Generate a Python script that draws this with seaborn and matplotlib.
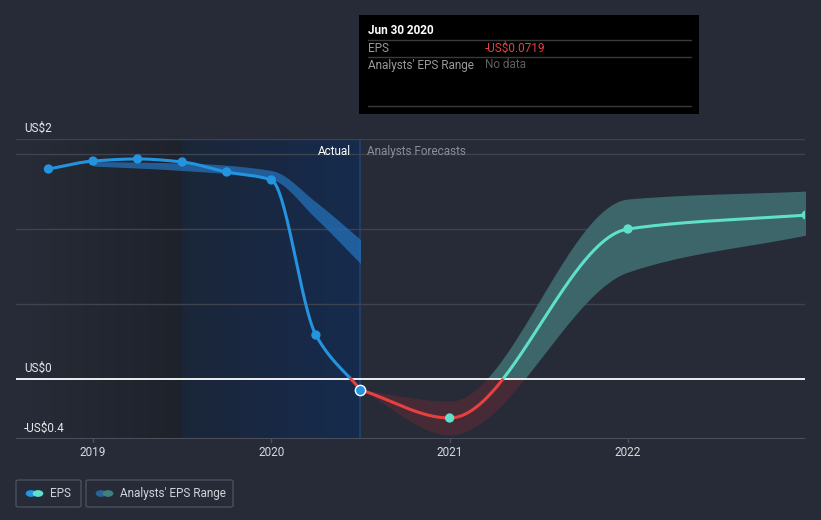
import numpy as np
import pandas as pd
import matplotlib
matplotlib.use("Agg")
import matplotlib.pyplot as plt
from matplotlib.colors import LinearSegmentedColormap
import seaborn as sns

# ---------------- data ----------------
actual_x = [2018.75, 2019.0, 2019.25, 2019.5, 2019.75, 2020.0, 2020.25, 2020.5]
actual_eps = [1.40, 1.453, 1.467, 1.447, 1.38, 1.327, 0.293, -0.0719]

past_range_x = [2019.0, 2019.5, 2020.0, 2020.25, 2020.5]
past_range_hi = [1.45, 1.44, 1.39, 1.18, 0.93]
past_range_lo = [1.42, 1.39, 1.33, 1.07, 0.77]

fc_x = [2020.5, 2021.0, 2022.0, 2023.0]
fc_eps = [-0.0719, -0.26, 1.0, 1.093]
fc_hi = [-0.0719, -0.147, 1.20, 1.253]
fc_lo = [-0.0719, -0.373, 0.713, 0.96]

year_ticks = [2019, 2020, 2021, 2022]
y_label_vals = [1.6, 0.0, -0.4]
y_label_txt = ["US$2", "US$0", "-US$0.4"]
grid_vals = [1.6, 1.5, 1.0, 0.5]

tip_date = "Jun 30 2020"
tip_eps = "-US$0.0719"

# ---------------- helpers ----------------
def pchip(x, y, xs):
    x = np.asarray(x, float); y = np.asarray(y, float)
    h = np.diff(x); d = np.diff(y) / h
    n = len(x)
    m = np.zeros(n)
    if n == 2:
        m[:] = d[0]
    else:
        for k in range(1, n - 1):
            if d[k - 1] * d[k] <= 0:
                m[k] = 0
            else:
                w1 = 2 * h[k] + h[k - 1]; w2 = h[k] + 2 * h[k - 1]
                m[k] = (w1 + w2) / (w1 / d[k - 1] + w2 / d[k])
        m[0] = d[0]; m[-1] = d[-1]
    out = np.empty_like(xs)
    for i, xv in enumerate(xs):
        k = min(max(np.searchsorted(x, xv) - 1, 0), n - 2)
        t = (xv - x[k]) / h[k]
        h00 = 2*t**3 - 3*t**2 + 1; h10 = t**3 - 2*t**2 + t
        h01 = -2*t**3 + 3*t**2; h11 = t**3 - t**2
        out[i] = h00*y[k] + h10*h[k]*m[k] + h01*y[k+1] + h11*h[k]*m[k+1]
    return out

BG = "#262B37"
W, H = 821, 520
fig = plt.figure(figsize=(W/100, H/100), dpi=100, facecolor=BG)
sns.set_style("dark")
plt.rcParams['font.family'] = ['Roboto', 'DejaVu Sans']

L, R, T, B = 16, 805, 139, 439
ax = fig.add_axes([L/W, 1 - B/H, (R-L)/W, (B-T)/H])
ax.set_facecolor(BG)
x0, x1 = 2018.568, 2022.993
y0, y1 = -0.4, 1.6
ax.set_xlim(x0, x1)
ax.set_ylim(y0, y1)
for s in ax.spines.values():
    s.set_visible(False)
ax.set_xticks([]); ax.set_yticks([])
ax.grid(False)

# background regions
grad = np.linspace(0, 1, 256).reshape(1, -1)
cm_dark = LinearSegmentedColormap.from_list("d", ["#272C38", "#1E222B"])
ax.imshow(grad, extent=[x0, 2019.5, y0, y1], aspect="auto", cmap=cm_dark, zorder=0)
cm_blue = LinearSegmentedColormap.from_list("b", ["#1B2638", "#162B4E"])
ax.imshow(grad, extent=[2019.5, 2020.5, y0, y1], aspect="auto", cmap=cm_blue, zorder=0)
ax.axvline(2020.5, color="#24406A", lw=1.2, zorder=1)

# grid lines
for g in grid_vals:
    ax.axhline(g, color="#3E4350", lw=1, zorder=1)
ax.axhline(-0.4 + 0.002, color="#4A4F5B", lw=1.5, zorder=1)

# past analyst band
xs_p = np.linspace(past_range_x[0], past_range_x[-1], 200)
ax.fill_between(xs_p, pchip(past_range_x, past_range_lo, xs_p), pchip(past_range_x, past_range_hi, xs_p),
                color="#2470B8", alpha=0.75, lw=0, zorder=2)

# forecast band
xs_f = np.linspace(fc_x[0], fc_x[-1], 400)
fh = pchip(fc_x, fc_hi, xs_f); fl = pchip(fc_x, fc_lo, xs_f)
ax.fill_between(xs_f, np.maximum(fl, 0), np.maximum(fh, 0), color="#3E6A6D", alpha=0.95, lw=0, zorder=2)
ax.fill_between(xs_f, np.minimum(fl, 0), np.minimum(fh, 0), color="#4A2A36", alpha=0.9, lw=0, zorder=2)

# zero line
ax.axhline(0, color="white", lw=1.3, zorder=3)

# actual EPS line
xs_a = np.linspace(actual_x[0], actual_x[-1], 400)
ya = pchip(actual_x, actual_eps, xs_a)
ya_pos = np.where(ya >= 0, ya, np.nan)
ya_neg = np.where(ya <= 0, ya, np.nan)
sns.lineplot(x=xs_a, y=ya_pos, ax=ax, color="#2394DF", lw=2.2, zorder=4)
sns.lineplot(x=xs_a, y=ya_neg, ax=ax, color="#E8403F", lw=2.2, zorder=4)
sns.scatterplot(x=actual_x[:-1], y=actual_eps[:-1], ax=ax, color="#2394DF", s=45, edgecolor="none", zorder=5)

# forecast EPS line
yf = pchip(fc_x, fc_eps, xs_f)
sns.lineplot(x=xs_f, y=np.where(yf >= 0, yf, np.nan), ax=ax, color="#5FE0CB", lw=2.2, zorder=4)
sns.lineplot(x=xs_f, y=np.where(yf <= 0, yf, np.nan), ax=ax, color="#E8403F", lw=2.2, zorder=4)
sns.scatterplot(x=fc_x[1:], y=fc_eps[1:], ax=ax, color="#5FE0CB", s=45, edgecolor="none", zorder=5)
sns.scatterplot(x=[actual_x[-1]], y=[actual_eps[-1]], ax=ax, color="#2394DF", s=55,
                edgecolor="white", linewidth=1, zorder=6)

# year ticks
for yr in year_ticks:
    ax.plot([yr, yr], [y0, y0 - 0.02], color="#4A4F5B", lw=1, clip_on=False)
    ax.text(yr, y0 - 0.045, str(yr), ha="center", va="top", color="#D8DAE0", fontsize=8.5)

# y labels
for v, t in zip(y_label_vals, y_label_txt):
    fig.text(24/W, 1 - ((379 - v*150) - 11)/H, t, ha="left", va="center", color="#E6E8EC", fontsize=8.5)

# Actual / Forecast labels
fig.text(351/W, 1 - 151/H, "Actual", ha="right", va="center", color="white", fontsize=8.5)
fig.text(367/W, 1 - 151/H, "Analysts Forecasts", ha="left", va="center", color="#8A8E98", fontsize=8.5)

# tooltip box
tip = fig.add_axes([359/W, 1 - 114/H, 340/W, 99/H])
tip.set_facecolor("black")
tip.set_xlim(359, 699); tip.set_ylim(114, 15)
tip.set_xticks([]); tip.set_yticks([])
for s in tip.spines.values():
    s.set_visible(False)
for yy in [40, 57, 106]:
    tip.plot([368, 691], [yy, yy], color="#3A3A3A", lw=1)
tip.text(368, 31, tip_date, color="white", fontsize=8.5, fontweight="bold", va="center")
tip.text(368, 48, "EPS", color="#9A9A9A", fontsize=8.5, va="center")
tip.text(485, 48, tip_eps, color="#E8403F", fontsize=8.5, va="center")
tip.text(368, 65, "Analysts' EPS Range", color="#9A9A9A", fontsize=8.5, va="center")
tip.text(485, 65, "No data", color="#5E5E5E", fontsize=8.5, va="center")

# legend
from matplotlib.patches import FancyBboxPatch, Circle
def legbox(xa, xb, label, c1, c2):
    fig.patches.append(FancyBboxPatch((xa/W, 1 - 507/H), (xb - xa)/W, 27/H, boxstyle="round,pad=0,rounding_size=0.003",
                                      transform=fig.transFigure, fc="none", ec="#4A4F5B", lw=1))
    fig.patches.append(Circle(((xa + 15)/W, 1 - 493.5/H), 0.0065, transform=fig.transFigure, fc=c1, ec="none"))
    fig.patches.append(Circle(((xa + 22)/W, 1 - 493.5/H), 0.0065, transform=fig.transFigure, fc=c2, ec="none"))
    fig.text((xa + 34)/W, 1 - 493.5/H, label, color="#D0D3DA", fontsize=8.5, va="center")
legbox(16, 81, "EPS", "#2394DF", "#5FE0CB")
legbox(86, 233, "Analysts' EPS Range", "#2A6299", "#3E7F80")

fig.savefig("out.png", dpi=100, facecolor=BG)
